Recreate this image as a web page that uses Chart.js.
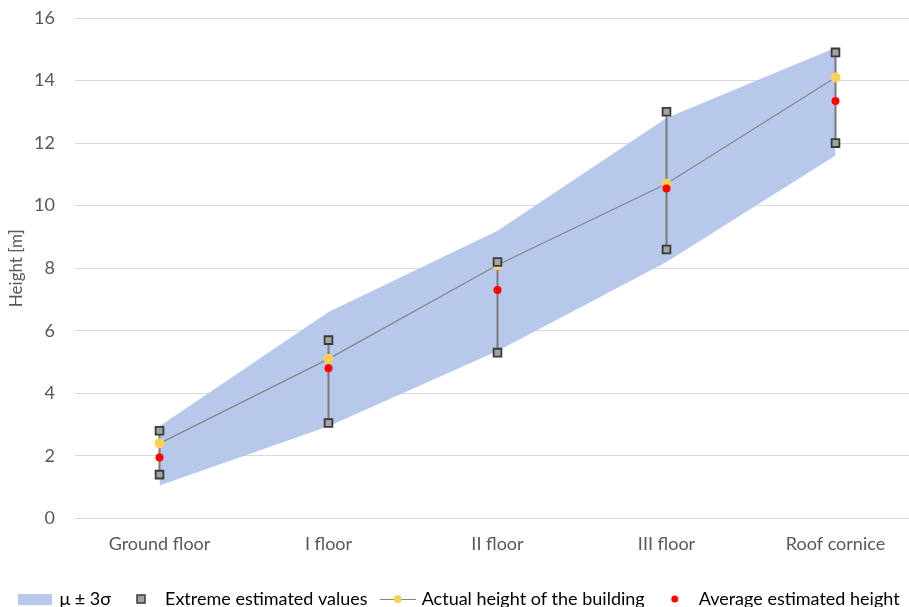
<!DOCTYPE html>
<html>
<head>
<meta charset="utf-8">
<script src="https://cdn.jsdelivr.net/npm/chart.js@4/dist/chart.umd.min.js"></script>
<style>
    html, body { margin: 0; padding: 0; background: #fff; overflow: hidden; }
    #wrap { position: relative; width: 920px; height: 607px; }
</style>
</head>
<body>
<div id="wrap"><canvas id="chart"></canvas></div>
<script>
const categories = ['Ground floor', 'I floor', 'II floor', 'III floor', 'Roof cornice'];
const bandLower = [1.05, 2.95, 5.35, 8.2, 11.6];
const bandUpper = [2.95, 6.6, 9.2, 12.8, 15.05];
const extremeMin = [1.4, 3.05, 5.3, 8.6, 12.0];
const extremeMax = [2.8, 5.7, 8.2, 13.0, 14.9];
const actualHeight = [2.4, 5.1, 8.1, 10.7, 14.1];
const averageHeight = [1.95, 4.8, 7.3, 10.55, 13.35];
const yTicks = [0, 2, 4, 6, 8, 10, 12, 14, 16];

const bandColor = '#b8c8ea';
const squareFill = '#a3a3a3';
const squareBorder = '#3a3a3a';
const lineColor = '#858585';
const yellow = '#fcd05a';
const red = '#ff0000';
const textColor = '#595959';
const fontFamily = 'Lato, "Noto Sans", sans-serif';
const fontSize = 18;

// small canvases used as legend symbols
function makeIcon(w, h, draw) {
    const c = document.createElement('canvas');
    c.width = w;
    c.height = h;
    draw(c.getContext('2d'));
    return c;
}

const bandIcon = makeIcon(34, 11, ctx => {
    ctx.fillStyle = bandColor;
    ctx.fillRect(0, 0, 34, 11);
});
const squareIcon = makeIcon(12, 12, ctx => {
    ctx.fillStyle = squareFill;
    ctx.strokeStyle = squareBorder;
    ctx.lineWidth = 1.5;
    ctx.fillRect(2, 2, 8, 8);
    ctx.strokeRect(2, 2, 8, 8);
});
const lineIcon = makeIcon(36, 10, ctx => {
    ctx.strokeStyle = lineColor;
    ctx.lineWidth = 1;
    ctx.beginPath();
    ctx.moveTo(0, 5.5);
    ctx.lineTo(36, 5.5);
    ctx.stroke();
    ctx.fillStyle = yellow;
    ctx.beginPath();
    ctx.arc(18, 5, 4, 0, Math.PI * 2);
    ctx.fill();
});
const dotIcon = makeIcon(10, 10, ctx => {
    ctx.fillStyle = red;
    ctx.beginPath();
    ctx.arc(5, 5, 3.5, 0, Math.PI * 2);
    ctx.fill();
});

const legendItems = [
    { text: 'μ ± 3σ', pointStyle: bandIcon, datasetIndex: 1 },
    { text: 'Extreme estimated values', pointStyle: squareIcon, datasetIndex: 4 },
    { text: 'Actual height of the building', pointStyle: lineIcon, datasetIndex: 3 },
    { text: 'Average estimated height', pointStyle: dotIcon, datasetIndex: 6 }
];

new Chart(document.getElementById('chart'), {
    data: {
        labels: categories,
        datasets: [
            {
                type: 'line',
                label: 'band lower',
                data: bandLower,
                borderWidth: 0,
                pointRadius: 0,
                fill: false,
                order: 6
            },
            {
                type: 'line',
                label: 'μ ± 3σ',
                data: bandUpper,
                borderWidth: 0,
                borderColor: 'rgba(0,0,0,0)',
                pointRadius: 0,
                backgroundColor: bandColor,
                fill: '-1',
                order: 5
            },
            {
                type: 'bar',
                label: 'range',
                data: extremeMin.map((v, i) => [v, extremeMax[i]]),
                backgroundColor: '#7c7c7c',
                barThickness: 1.4,
                order: 4
            },
            {
                type: 'line',
                label: 'Actual height of the building',
                data: actualHeight,
                borderColor: lineColor,
                borderWidth: 1.2,
                pointRadius: 5,
                pointBackgroundColor: yellow,
                pointBorderWidth: 0,
                fill: false,
                order: 3
            },
            {
                type: 'line',
                label: 'Extreme estimated values',
                data: extremeMax,
                showLine: false,
                pointStyle: 'rect',
                pointRadius: 5.5,
                pointBackgroundColor: squareFill,
                pointBorderColor: squareBorder,
                pointBorderWidth: 1.8,
                order: 2
            },
            {
                type: 'line',
                label: 'Extreme min',
                data: extremeMin,
                showLine: false,
                pointStyle: 'rect',
                pointRadius: 5.5,
                pointBackgroundColor: squareFill,
                pointBorderColor: squareBorder,
                pointBorderWidth: 1.8,
                order: 2
            },
            {
                type: 'line',
                label: 'Average estimated height',
                data: averageHeight,
                showLine: false,
                pointRadius: 4,
                pointBackgroundColor: red,
                pointBorderWidth: 0,
                order: 1
            }
        ]
    },
    options: {
        responsive: true,
        maintainAspectRatio: false,
        animation: false,
        layout: {
            autoPadding: false,
            padding: { top: 0, left: 0, right: 0, bottom: -11 }
        },
        scales: {
            x: {
                offset: true,
                grid: { display: false },
                border: { display: false },
                afterFit: axis => {
                    axis.paddingLeft = 0;
                    axis.paddingRight = 0;
                    axis.height += 13;
                },
                ticks: {
                    color: textColor,
                    font: { family: fontFamily, size: fontSize },
                    padding: 7
                }
            },
            y: {
                min: 0,
                max: 16,
                afterBuildTicks: axis => {
                    axis.ticks = yTicks.map(v => ({ value: v }));
                },
                afterFit: axis => {
                    axis.width = 75;
                    axis.paddingTop = 18;
                    axis.paddingBottom = 0;
                },
                grid: {
                    color: '#d9d9d9',
                    lineWidth: 1,
                    drawTicks: false
                },
                border: { display: false },
                ticks: {
                    color: textColor,
                    font: { family: fontFamily, size: fontSize },
                    padding: 20
                },
                title: {
                    display: true,
                    text: 'Height [m]',
                    color: textColor,
                    font: { family: fontFamily, size: fontSize - 1 },
                    padding: { top: 6, bottom: 0 }
                }
            }
        },
        plugins: {
            tooltip: { enabled: false },
            legend: {
                position: 'bottom',
                labels: {
                    usePointStyle: true,
                    pointStyleWidth: 30,
                    padding: 15,
                    color: '#404040',
                    font: { family: fontFamily, size: fontSize },
                    generateLabels: () => legendItems.map(item => ({
                        text: item.text,
                        pointStyle: item.pointStyle,
                        datasetIndex: item.datasetIndex,
                        fillStyle: 'rgba(0,0,0,0)',
                        strokeStyle: 'rgba(0,0,0,0)',
                        lineWidth: 0,
                        hidden: false
                    }))
                }
            }
        }
    }
});
</script>
</body>
</html>
